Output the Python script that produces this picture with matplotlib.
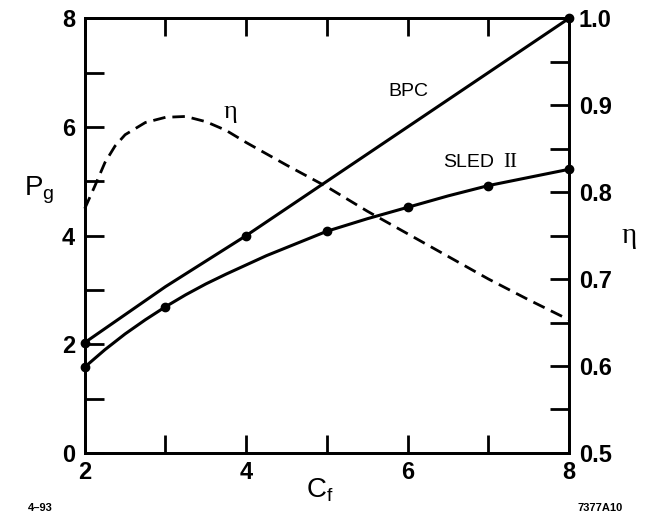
import numpy as np
import matplotlib
matplotlib.use("Agg")
import matplotlib.pyplot as plt

# BPC curve (P_g vs C_f)
bpc_cf = [2, 3, 4, 5, 6, 7, 8]
bpc_pg = [2.03, 3.06, 4.0, 5.0, 6.0, 7.0, 8.0]
bpc_dot_cf = [2, 4, 8]
bpc_dot_pg = [2.03, 4.0, 8.0]

# SLED II curve
sled_cf = [2, 3, 5, 6, 7, 8]
sled_pg = [1.58, 2.69, 4.08, 4.52, 4.92, 5.22]
sled_line_cf = [2.0, 2.25, 2.5, 2.75, 3.0, 3.25, 3.5, 3.75, 4.0, 4.25, 4.5, 4.75,
                5.0, 5.5, 6.0, 6.5, 7.0, 7.5, 8.0]
sled_line_pg = [1.58, 1.90, 2.19, 2.45, 2.69, 2.91, 3.11, 3.29, 3.46, 3.63, 3.78, 3.93,
                4.08, 4.31, 4.52, 4.73, 4.92, 5.07, 5.22]

# efficiency eta (right axis)
eta_cf = [2.0, 2.125, 2.25, 2.375, 2.5, 2.75, 3.0, 3.25, 3.5, 3.75, 4.0, 4.5,
          5.0, 5.5, 6.0, 6.5, 7.0, 7.5, 8.0]
eta_val = [0.781, 0.807, 0.834, 0.853, 0.866, 0.880, 0.886, 0.887, 0.881, 0.871,
           0.857, 0.831, 0.806, 0.778, 0.752, 0.726, 0.700, 0.676, 0.653]

plt.rcParams['font.family'] = ['Liberation Sans', 'DejaVu Sans']

fig = plt.figure(figsize=(6.52, 5.2), dpi=100)
ax = fig.add_axes([0.130, 0.129, 0.743, 0.836])
ax2 = ax.twinx()

lw = 2.2
ax.plot(bpc_cf, bpc_pg, color='black', lw=lw, clip_on=False)
ax.plot(bpc_dot_cf, bpc_dot_pg, 'o', color='black', ms=6, clip_on=False, zorder=5)
ax.plot(sled_line_cf, sled_line_pg, color='black', lw=lw, clip_on=False)
ax.plot(sled_cf, sled_pg, 'o', color='black', ms=6, clip_on=False, zorder=5)
ax2.plot(eta_cf, eta_val, color='black', lw=2.0, ls=(0, (4.5, 2.5)), clip_on=False)

ax.set_xlim(2, 8)
ax.set_ylim(0, 8)
ax2.set_ylim(0.5, 1.0)

for sp in ax.spines.values():
    sp.set_linewidth(2.0)
for sp in ax2.spines.values():
    sp.set_linewidth(2.0)

ax.set_xticks(range(2, 9))
ax.set_xticklabels(['2', '', '4', '', '6', '', '8'])
ax.set_yticks(range(0, 9))
ax.set_yticklabels(['0', '', '2', '', '4', '', '6', '', '8'])
ax.tick_params(axis='both', direction='in', length=14, width=2.0,
               labelsize=17, pad=7, top=True)
ax.tick_params(axis='x', length=13, pad=6)
for lab in ax.get_xticklabels() + ax.get_yticklabels():
    lab.set_fontweight('bold')

eta_ticks = np.arange(0.5, 1.001, 0.05)
ax2.set_yticks(eta_ticks)
ax2.set_yticklabels([f"{t:.1f}" if round(t * 100) % 10 == 0 else '' for t in eta_ticks])
ax2.tick_params(axis='y', direction='in', length=14, width=2.0, labelsize=17, pad=7)
for lab in ax2.get_yticklabels():
    lab.set_fontweight('bold')

# axis labels
ax.text(-0.093, 0.605, r'P$_\mathregular{g}$', transform=ax.transAxes,
        fontsize=20, ha='center', va='center')
ax.text(0.486, -0.085, r'C$_\mathregular{f}$', transform=ax.transAxes,
        fontsize=20, ha='center', va='center')
ax.text(1.124, 0.50, 'η', transform=ax.transAxes, fontsize=21,
        ha='center', va='center', family=['Liberation Serif', 'DejaVu Serif'])

# curve labels
ax.text(5.76, 6.65, 'BPC', fontsize=14, ha='left', va='center')
ax.text(6.44, 5.35, 'SLED', fontsize=14, ha='left', va='center')
ax.text(7.18, 5.35, 'II', fontsize=15, ha='left', va='center',
        family=['Liberation Serif', 'DejaVu Serif'])
ax.text(3.80, 6.27, 'η', fontsize=19, ha='center', va='center',
        family=['Liberation Serif', 'DejaVu Serif'])

fig.text(0.061, 0.023, '4–93', fontsize=8, fontweight='bold', ha='center', va='center')
fig.text(0.92, 0.023, '7377A10', fontsize=8, fontweight='bold', ha='center', va='center')

fig.savefig('out.png', dpi=100)
